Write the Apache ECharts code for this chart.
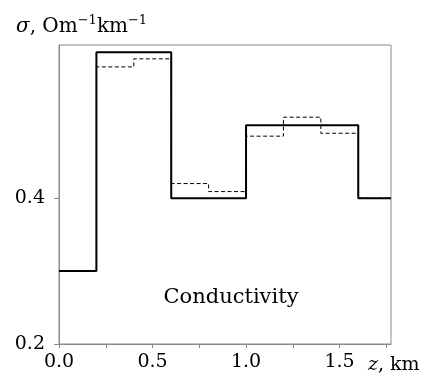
<!doctype html>
<html>
<head>
<meta charset="utf-8">
<script src="https://cdn.jsdelivr.net/npm/echarts@6/dist/echarts.min.js"></script>
<style>
  html, body {margin: 0; padding: 0; background: #fff;}
  #chart {width: 427px; height: 381px;}
</style>
</head>
<body>
<div id="chart"></div>
<script>
// true profile (solid) and recovered profile (dashed), piecewise constant
let edgesTrue = [0, 0.2, 0.6, 1.0, 1.6];
let sigmaTrue = [0.30, 0.60, 0.40, 0.50, 0.40];
let edgesRec = [0, 0.2, 0.4, 0.6, 0.8, 1.0, 1.2, 1.4, 1.6];
let sigmaRec = [0.30, 0.58, 0.591, 0.42, 0.409, 0.485, 0.511, 0.489, 0.40];
let xEnd = 1.775;
let xLabels = [0, 0.5, 1.0, 1.5];
let xTicks = [0, 0.25, 0.5, 0.75, 1.0, 1.25, 1.5, 1.75];
let yLabels = [0.2, 0.4];

function steps(edges, vals) {
    let d = edges.map((e, i) => [e, vals[i]]);
    d.push([xEnd, vals[vals.length - 1]]);
    return d;
}

let chart = echarts.init(document.getElementById('chart'));
let font = 'DejaVu Serif';
let frame = '#8a8a8a';

chart.setOption({
    animation: false,
    grid: {left: 59, right: 36, top: 45, bottom: 37, show: true, borderColor: frame, borderWidth: 1},
    xAxis: {
        type: 'value', min: 0, max: xEnd,
        axisLine: {lineStyle: {color: frame}},
        axisTick: {customValues: xTicks, length: 4, lineStyle: {color: frame}},
        axisLabel: {customValues: xLabels, formatter: v => v.toFixed(1), color: '#000', fontFamily: font, fontSize: 19, margin: 9},
        splitLine: {show: false}
    },
    yAxis: {
        type: 'value', min: 0.2, max: 0.61,
        axisLine: {show: true, lineStyle: {color: frame}},
        axisTick: {show: true, customValues: yLabels, length: 5, lineStyle: {color: frame}},
        axisLabel: {customValues: yLabels, formatter: v => v.toFixed(1), color: '#000', fontFamily: font, fontSize: 19, margin: 14},
        splitLine: {show: false}
    },
    series: [
        {
            type: 'line', step: 'end', symbol: 'none',
            data: steps(edgesRec, sigmaRec),
            lineStyle: {color: '#000', width: 1, type: [4, 2.5]}
        },
        {
            type: 'line', step: 'end', symbol: 'none',
            data: steps(edgesTrue, sigmaTrue),
            lineStyle: {color: '#000', width: 2}
        }
    ],
    graphic: [
        {
            type: 'text', x: 16, y: 27,
            style: {
                text: '{i|σ}{n|, Om}{s|−1}{n|km}{s|−1}',
                fontFamily: font, fontSize: 20, fill: '#000',
                verticalAlign: 'middle',
                rich: {
                    i: {fontFamily: font, fontSize: 20, fontStyle: 'italic', lineHeight: 26},
                    n: {fontFamily: font, fontSize: 20, lineHeight: 26},
                    s: {fontFamily: font, fontSize: 13, lineHeight: 13, verticalAlign: 'top'}
                }
            }
        },
        {
            type: 'text', x: 368, y: 365,
            style: {
                text: '{i|z}, km',
                fontFamily: font, fontSize: 19, fill: '#000',
                verticalAlign: 'middle',
                rich: {i: {fontFamily: font, fontSize: 19, fontStyle: 'italic'}}
            }
        },
        {
            type: 'text', x: 231, y: 298,
            style: {text: 'Conductivity', fontFamily: font, fontSize: 21, fill: '#000', align: 'center', verticalAlign: 'middle'}
        }
    ]
});
</script>
</body>
</html>
